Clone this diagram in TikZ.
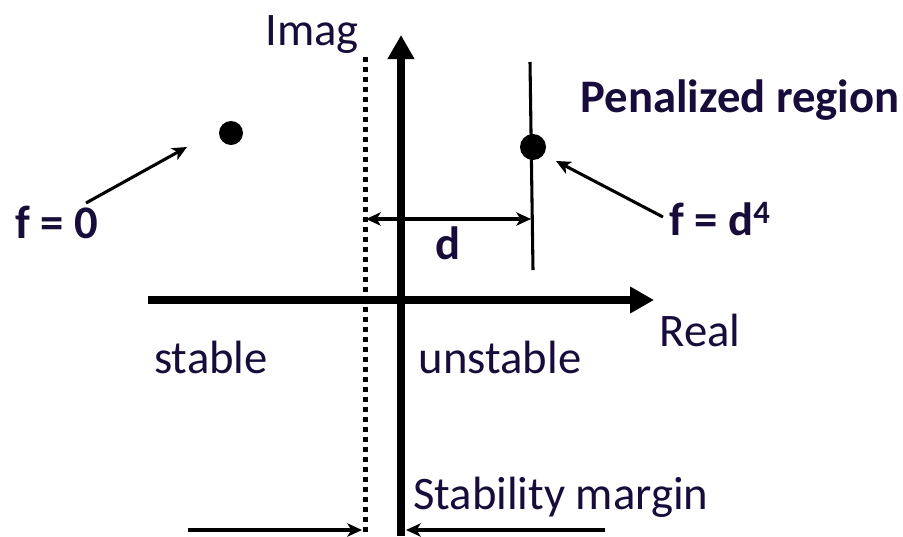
\documentclass[tikz,border=0pt]{standalone}
\usepackage{fontspec}
\setmainfont{Carlito}
\usetikzlibrary{arrows.meta}
\definecolor{inkblue}{RGB}{24,12,58}

\begin{document}
\begin{tikzpicture}[x=0.75pt, y=-0.75pt,
  >={Stealth[length=11pt,width=10pt,inset=3pt]},
  lbl/.style={text=inkblue, font=\fontsize{35}{42}\selectfont, inner sep=0pt},
  blbl/.style={lbl, font=\fontsize{35}{42}\selectfont\bfseries},
  axis/.style={line width=6pt, -{Triangle[length=18pt,width=19pt]}},
  pole/.style={circle, fill=black, inner sep=0pt}]
  \useasboundingbox (0,0) rectangle (903,536);
  % axes
  \coordinate (imagbot) at (401,536);
  \coordinate (imagtop) at (401,35);
  \coordinate (realleft) at (148,300);
  \coordinate (realright) at (654,300);
  \draw[axis] (imagbot) -- (imagtop);
  \draw[axis] (realleft) -- (realright);
  % stability margin line
  \coordinate (margtop) at (365,57);
  \coordinate (margbot) at (365,536);
  \draw[line width=3.75pt, dash pattern=on 3.5pt off 4pt] (margtop) -- (margbot);
  % penalized pole line
  \coordinate (penaltop) at (530,62);
  \coordinate (penalbot) at (533,270);
  \draw[line width=2.3pt] (penaltop) -- (penalbot);
  % poles
  \node[pole, minimum size=18pt] (stabpole) at (231,133) {};
  \node[pole, minimum size=19.5pt] (unstpole) at (533,147) {};
  % labels
  \node[lbl] (imaglbl) at (312,35) {Imag};
  \node[lbl] (reallbl) at (700,330) {Real};
  \node[lbl] (stablbl) at (211,357) {stable};
  \node[lbl] (unstlbl) at (500,357) {unstable};
  \node[lbl, anchor=west] (marglbl) at (413,497) {Stability margin};
  \node[blbl] (penallbl) at (740,100) {Penalized region};
  \node[blbl] (fzero) at (57,222) {f = 0};
  \node[blbl] (fdfour) at (720,219) {f = d\textsuperscript{4}};
  \node[blbl] (dlbl) at (448,243) {d};
  % pointers
  \coordinate (fzerotail) at (86,203);
  \coordinate (fzerohead) at (187,147);
  \draw[line width=2.3pt, ->] (fzerotail) -- (fzerohead);
  \coordinate (fdtail) at (663,217);
  \coordinate (fdhead) at (556,161);
  \draw[line width=2.3pt, ->] (fdtail) -- (fdhead);
  % distance d
  \coordinate (dleft) at (366,219);
  \coordinate (dright) at (531,219);
  \draw[line width=2.3pt, <->] (dleft) -- (dright);
  % margin arrows
  \coordinate (mleft) at (188,530);
  \coordinate (mlefthead) at (362,530);
  \coordinate (mright) at (605,530);
  \coordinate (mrighthead) at (406,530);
  \draw[line width=2.3pt, ->] (mleft) -- (mlefthead);
  \draw[line width=2.3pt, ->] (mright) -- (mrighthead);
\end{tikzpicture}
\end{document}
